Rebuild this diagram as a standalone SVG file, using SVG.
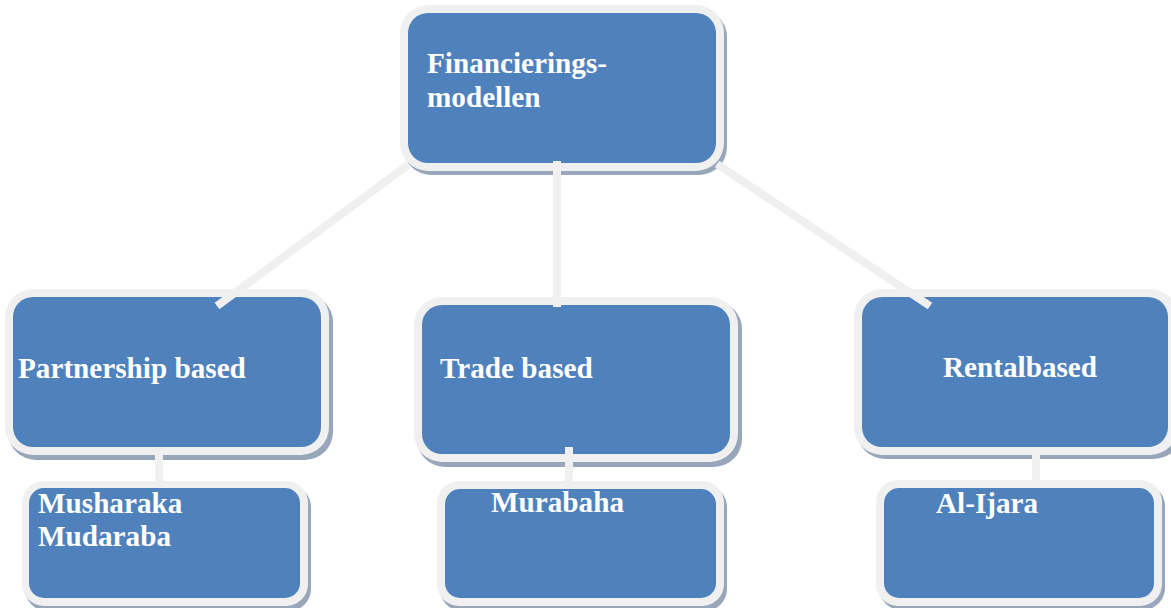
<svg xmlns="http://www.w3.org/2000/svg" width="1171" height="608" viewBox="0 0 1171 608">
<style>
.sh{fill:#98a6ba}
.bd{fill:#f0f0f0}
.bx{fill:#4f81bd}
.t{font-family:"Liberation Serif","Times New Roman",serif;font-weight:bold;font-size:29.2px;fill:#ffffff}
.c{stroke:#f0f0f0;stroke-width:8;fill:none}
</style>
<rect width="1171" height="608" fill="#ffffff"/>
<g id="node-top">
<rect class="sh" x="403" y="9" width="324" height="166" rx="28"/>
<rect class="bd" x="400" y="5" width="324" height="166" rx="28"/>
<rect class="bx" x="408" y="13" width="308" height="150" rx="20"/>
<text class="t" x="427" y="73">Financierings-</text>
<text class="t" x="427" y="107">modellen</text>
</g>
<g id="node-partnership">
<rect class="sh" x="8" y="294" width="325" height="166" rx="28"/>
<rect class="bd" x="5" y="289" width="324" height="166" rx="28"/>
<rect class="bx" x="13" y="297" width="308" height="150" rx="20"/>
<text class="t" x="18" y="378">Partnership based</text>
</g>
<g id="node-trade">
<rect class="sh" x="417" y="301" width="325" height="166" rx="28"/>
<rect class="bd" x="414" y="297" width="324" height="165" rx="28"/>
<rect class="bx" x="422" y="305" width="308" height="149" rx="20"/>
<text class="t" x="440" y="378">Trade based</text>
</g>
<g id="node-rental">
<rect class="sh" x="857" y="293" width="325" height="166" rx="28"/>
<rect class="bd" x="854" y="289" width="324" height="166" rx="28"/>
<rect class="bx" x="862" y="297" width="306" height="150" rx="20"/>
<text class="t" x="943" y="377">Rentalbased</text>
</g>
<g id="node-musharaka">
<rect class="sh" x="25" y="485" width="286" height="126" rx="22"/>
<rect class="bd" x="22" y="481" width="286" height="125" rx="22"/>
<rect class="bx" x="29" y="488" width="271" height="110" rx="15"/>
<text class="t" x="38" y="513">Musharaka</text>
<text class="t" x="38" y="546">Mudaraba</text>
</g>
<g id="node-murabaha">
<rect class="sh" x="440" y="485" width="287" height="126" rx="22"/>
<rect class="bd" x="437" y="481" width="287" height="125" rx="22"/>
<rect class="bx" x="445" y="489" width="271" height="109" rx="15"/>
<text class="t" x="491" y="512">Murabaha</text>
</g>
<g id="node-ijara">
<rect class="sh" x="879" y="484" width="286" height="126" rx="22"/>
<rect class="bd" x="876" y="480" width="286" height="126" rx="22"/>
<rect class="bx" x="884" y="488" width="270" height="110" rx="15"/>
<text class="t" x="936" y="513">Al-Ijara</text>
</g>
<g id="connectors">
<line class="c" x1="408" y1="165" x2="217" y2="306"/>
<line class="c" x1="557" y1="161" x2="557" y2="307"/>
<line class="c" x1="717" y1="164" x2="930" y2="306"/>
<line class="c" x1="159" y1="455" x2="159" y2="482"/>
<line class="c" x1="569" y1="447" x2="569" y2="482"/>
<line class="c" x1="1036" y1="455" x2="1036" y2="481"/>
</g>
</svg>
